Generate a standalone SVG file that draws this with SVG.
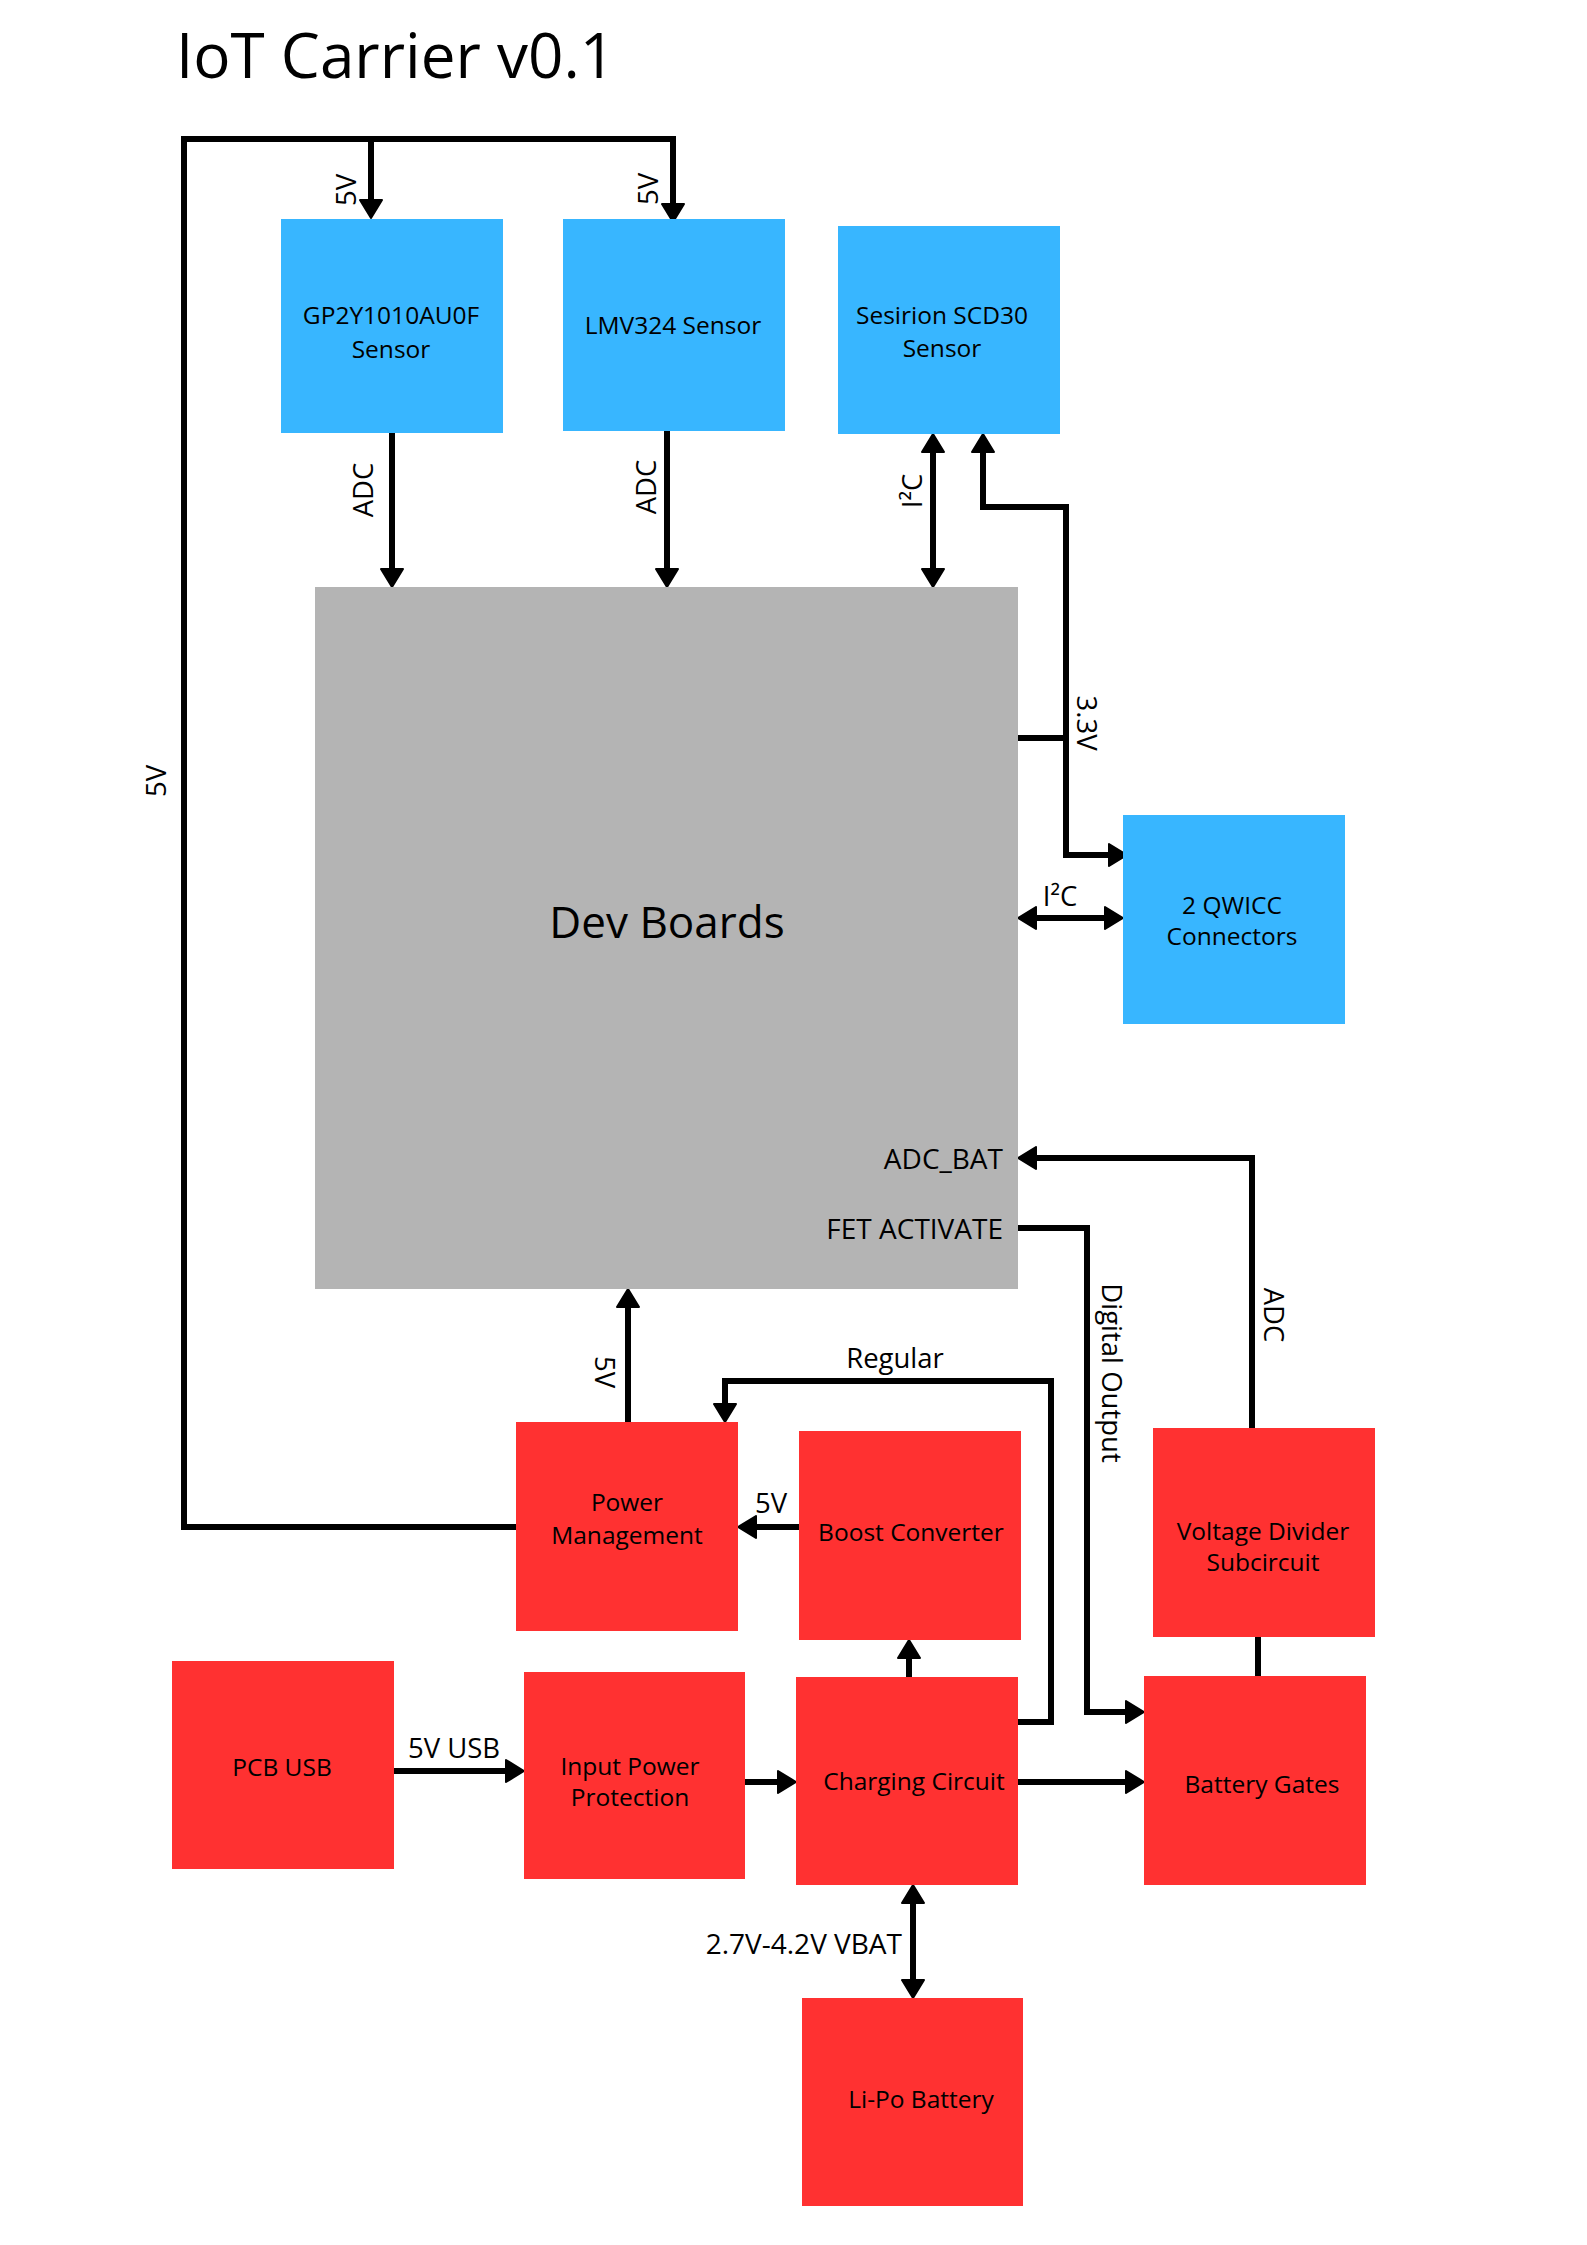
<svg xmlns="http://www.w3.org/2000/svg" width="1587" height="2245" viewBox="0 0 1587 2245">
<style>
text{font-family:"Open Sans","Liberation Sans",sans-serif;fill:#000;}
.blue{fill:#38B6FF;}
.red{fill:#FF3131;}
.gray{fill:#B4B4B4;}
.nt{font-size:24.5px;text-anchor:middle;dominant-baseline:central;}
.lb{font-size:27.5px;text-anchor:middle;dominant-baseline:central;}
.rl{font-size:28px;text-anchor:end;dominant-baseline:central;}
.c{fill:none;stroke:#000;stroke-width:6;stroke-linejoin:miter;}
.a{marker-end:url(#ah);}
.b{marker-start:url(#ah);marker-end:url(#ah);}
</style>
<defs>
<marker id="ah" viewBox="0 0 20 24" refX="7" refY="12" markerWidth="20" markerHeight="24" markerUnits="userSpaceOnUse" orient="auto-start-reverse">
<path d="M1,1 L19,12 L1,23 Z" fill="#000" stroke="#000" stroke-width="2" stroke-linejoin="round"/>
</marker>
</defs>
<rect width="1587" height="2245" fill="#fff"/>
<text x="176" y="78" style="font-size:62px">IoT Carrier v0.1</text>

<g id="connectors">
<path class="c a" d="M516,1527 H184 V139 H673 V210"/>
<path class="c a" d="M371,139 V206"/>
<path class="c a" d="M392,433 V575"/>
<path class="c a" d="M667,431 V575"/>
<path class="c b" d="M933,446 V575"/>
<path class="c b" d="M983,446 V507 H1066 V855 H1115"/>
<path class="c" d="M1018,738 H1066"/>
<path class="c b" d="M1030,918 H1111"/>
<path class="c a" d="M1252,1428 V1158 H1030"/>
<path class="c a" d="M1018,1228 H1087 V1712 H1132"/>
<path class="c a" d="M1018,1722 H1051 V1381 H725 V1410"/>
<path class="c a" d="M628,1422 V1301"/>
<path class="c a" d="M799,1527 H750"/>
<path class="c a" d="M909,1677 V1652"/>
<path class="c" d="M1258,1637 V1676"/>
<path class="c a" d="M394,1771 H512"/>
<path class="c a" d="M745,1782 H784"/>
<path class="c a" d="M1018,1782 H1132"/>
<path class="c b" d="M913,1897 V1986"/>
<text class="lb" x="345" y="190" transform="rotate(-90 345 190)">5V</text>
<text class="lb" x="647" y="189" transform="rotate(-90 647 189)">5V</text>
<text class="lb" x="155" y="781" transform="rotate(-90 155 781)">5V</text>
<text class="lb" x="362" y="490" transform="rotate(-90 362 490)">ADC</text>
<text class="lb" x="645" y="487" transform="rotate(-90 645 487)">ADC</text>
<text class="lb" x="911" y="491" transform="rotate(-90 911 491)">I²C</text>
<text class="lb" x="1087" y="723" transform="rotate(90 1087 723)">3.3V</text>
<text class="lb" x="1060" y="895">I²C</text>
<text class="lb" x="1112" y="1373" transform="rotate(90 1112 1373)">Digital Output</text>
<text class="lb" x="1274" y="1315" transform="rotate(90 1274 1315)">ADC</text>
<text class="lb" x="605" y="1372" transform="rotate(90 605 1372)">5V</text>
<text class="lb" x="895" y="1357">Regular</text>
<text class="lb" x="771" y="1502">5V</text>
<text class="lb" x="454" y="1747">5V USB</text>
<text class="rl" x="902" y="1943">2.7V-4.2V VBAT</text>
</g>

<g id="gp2y"><rect class="blue" x="281" y="219" width="222" height="214"/>
<text class="nt" x="391" y="314">GP2Y1010AU0F</text><text class="nt" x="391" y="348">Sensor</text></g>
<g id="lmv324"><rect class="blue" x="563" y="219" width="222" height="212"/>
<text class="nt" x="673" y="324">LMV324 Sensor</text></g>
<g id="scd30"><rect class="blue" x="838" y="226" width="222" height="208"/>
<text class="nt" x="942" y="314">Sesirion SCD30</text><text class="nt" x="942" y="347">Sensor</text></g>
<g id="devboards"><rect class="gray" x="315" y="587" width="703" height="702"/>
<text x="667" y="921" style="font-size:44px;text-anchor:middle;dominant-baseline:central">Dev Boards</text>
<text class="rl" x="1003" y="1158">ADC_BAT</text>
<text class="rl" x="1003" y="1228">FET ACTIVATE</text></g>
<g id="qwicc"><rect class="blue" x="1123" y="815" width="222" height="209"/>
<text class="nt" x="1232" y="904">2 QWICC</text><text class="nt" x="1232" y="935">Connectors</text></g>
<g id="power"><rect class="red" x="516" y="1422" width="222" height="209"/>
<text class="nt" x="627" y="1501">Power</text><text class="nt" x="627" y="1534">Management</text></g>
<g id="boost"><rect class="red" x="799" y="1431" width="222" height="209"/>
<text class="nt" x="911" y="1531">Boost Converter</text></g>
<g id="divider"><rect class="red" x="1153" y="1428" width="222" height="209"/>
<text class="nt" x="1263" y="1530">Voltage Divider</text><text class="nt" x="1263" y="1561">Subcircuit</text></g>
<g id="pcbusb"><rect class="red" x="172" y="1661" width="222" height="208"/>
<text class="nt" x="282" y="1766">PCB USB</text></g>
<g id="input"><rect class="red" x="524" y="1672" width="221" height="207"/>
<text class="nt" x="630" y="1765">Input Power</text><text class="nt" x="630" y="1796">Protection</text></g>
<g id="charging"><rect class="red" x="796" y="1677" width="222" height="208"/>
<text class="nt" x="914" y="1780">Charging Circuit</text></g>
<g id="gates"><rect class="red" x="1144" y="1676" width="222" height="209"/>
<text class="nt" x="1262" y="1783">Battery Gates</text></g>
<g id="lipo"><rect class="red" x="802" y="1998" width="221" height="208"/>
<text class="nt" x="921" y="2098">Li-Po Battery</text></g>
</svg>
